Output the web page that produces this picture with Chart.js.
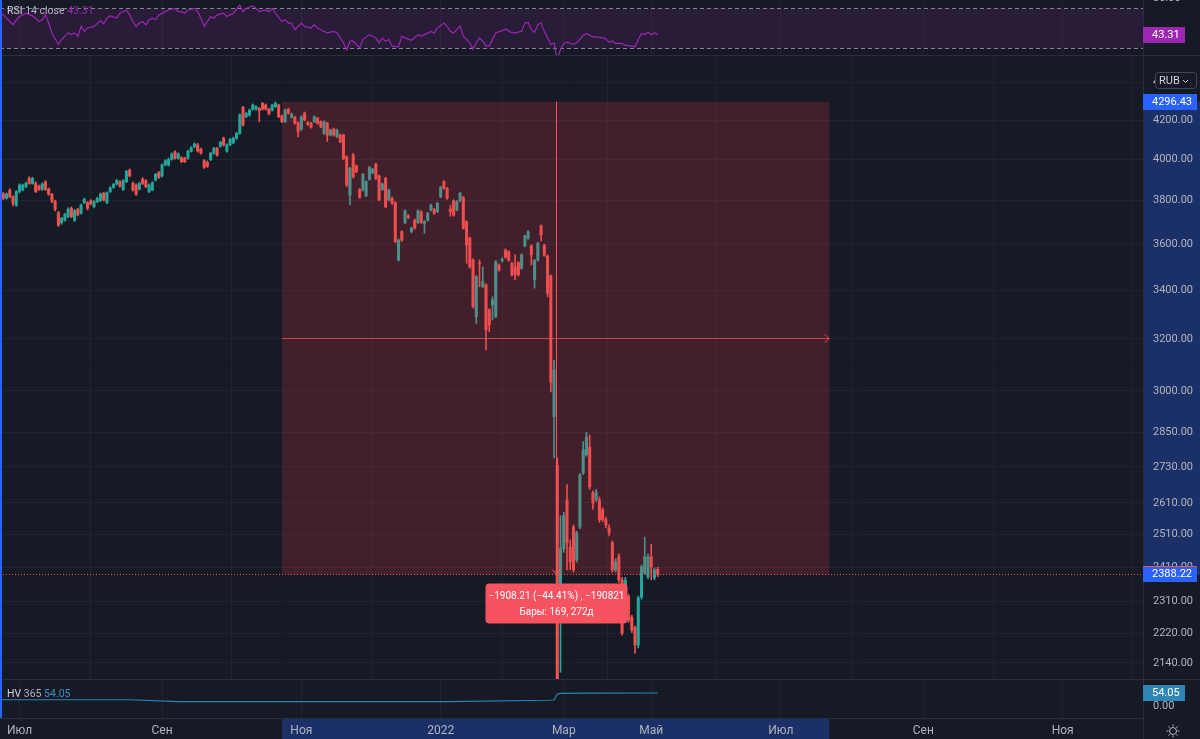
<!DOCTYPE html>
<html lang="ru">
<head>
  <meta charset="UTF-8">
  <title>IMOEX — Date and Price Range</title>
  <script src="https://cdn.jsdelivr.net/npm/chart.js"></script>
  <style>
    html, body { margin: 0; padding: 0; }
    body { width: 1200px; height: 739px; background: #161a25; position: relative; overflow: hidden; }
    canvas { position: absolute; left: 0; }
    .sep { position: absolute; left: 0; width: 1200px; height: 1px; background: #2a2e39; }
    .edge { position: absolute; left: 0; top: 0; width: 2px; height: 718px; background: #2962ff; }
  </style>
</head>
<body>
  <canvas id="rsiChart" width="1200" height="60" style="top:-5px"></canvas>
  <div class="sep" style="top:55px"></div>
  <canvas id="mainChart" width="1200" height="623" style="top:56px"></canvas>
  <div class="sep" style="top:679px"></div>
  <canvas id="hvChart" width="1200" height="59" style="top:680px"></canvas>
  <div class="edge"></div>

  <script>
    // --- data (daily bars, bar index 0 = 24 Jun 2021) ---
    const monthBars = [5, 49, 92, 135, 173, 200, 240, 284, 327];
    const monthLabels = ['Июл', 'Сен', 'Ноя', '2022', 'Мар', 'Май', 'Июл', 'Сен', 'Ноя'];
    const priceTicks = [4400, 4200, 4000, 3800, 3600, 3400, 3200, 3000, 2850, 2730, 2610, 2510, 2410, 2310, 2220, 2140];

    const openP = [
      3831, 3811, 3850, 3818, 3779, 3842, 3850, 3866, 3906, 3882,
      3882, 3869, 3853, 3890, 3855, 3830, 3798, 3743, 3697, 3709,
      3725, 3764, 3709, 3759, 3741, 3790, 3790, 3800, 3771, 3795,
      3800, 3835, 3790, 3842, 3863, 3879, 3890, 3852, 3890, 3947,
      3882, 3874, 3855, 3902, 3895, 3842, 3850, 3898, 3934, 3918,
      3972, 3972, 4000, 4037, 4005, 4008, 4005, 4005, 4040, 4063,
      4072, 4050, 3993, 3985, 3998, 4030, 4055, 4065, 4106, 4041,
      4072, 4083, 4106, 4131, 4266, 4217, 4226, 4257, 4257, 4261,
      4288, 4279, 4257, 4252, 4270, 4279, 4221, 4191, 4257, 4214,
      4214, 4186, 4152, 4236, 4188, 4183, 4191, 4209, 4191, 4131,
      4183, 4122, 4153, 4114, 4122, 4122, 4013, 3826, 4021, 3967,
      3853, 3850, 3823, 3902, 3934, 3976, 3918, 3853, 3906, 3803,
      3811, 3790, 3530, 3656, 3698, 3728, 3656, 3709, 3698, 3747,
      3694, 3709, 3756, 3759, 3748, 3818, 3890, 3858, 3760, 3799,
      3756, 3800, 3815, 3702, 3627, 3530, 3289, 3515, 3415, 3422,
      3317, 3338, 3290, 3508, 3527, 3574, 3566, 3515, 3500, 3518,
      3494, 3592, 3626, 3592, 3443, 3530, 3682, 3595, 3547, 3460,
      2906, 2735, 2352, 2466, 2620, 2471, 2533, 2432, 2533, 2709,
      2771, 2798, 2643, 2620, 2620, 2588, 2556, 2530, 2484, 2402,
      2441, 2372, 2352, 2323, 2265, 2235, 2188, 2322, 2393, 2381,
      2441, 2378, 2403
    ];
    const highP = [
      3840, 3836, 3856, 3822, 3848, 3880, 3879, 3888, 3914, 3912,
      3890, 3874, 3884, 3895, 3860, 3834, 3802, 3750, 3722, 3740,
      3766, 3770, 3758, 3764, 3784, 3812, 3795, 3805, 3800, 3816,
      3836, 3840, 3842, 3866, 3882, 3902, 3895, 3900, 3946, 3952,
      3890, 3880, 3888, 3910, 3900, 3880, 3890, 3931, 3940, 3978,
      3998, 4006, 4032, 4043, 4032, 4013, 4010, 4046, 4063, 4083,
      4080, 4056, 3998, 3992, 4035, 4060, 4060, 4090, 4112, 4078,
      4106, 4112, 4136, 4232, 4272, 4240, 4258, 4285, 4276, 4266,
      4293, 4285, 4262, 4284, 4296, 4284, 4226, 4257, 4262, 4236,
      4219, 4190, 4222, 4242, 4192, 4188, 4222, 4214, 4196, 4196,
      4188, 4153, 4158, 4153, 4127, 4127, 4018, 3960, 4030, 3972,
      3858, 3931, 3895, 3965, 3955, 3981, 3923, 3884, 3912, 3855,
      3816, 3795, 3623, 3661, 3757, 3735, 3677, 3714, 3757, 3752,
      3707, 3745, 3784, 3764, 3792, 3868, 3895, 3863, 3779, 3804,
      3800, 3840, 3820, 3707, 3632, 3535, 3462, 3530, 3500, 3427,
      3322, 3372, 3527, 3513, 3540, 3579, 3571, 3520, 3552, 3523,
      3557, 3641, 3661, 3597, 3532, 3609, 3687, 3600, 3552, 3465,
      3117, 2760, 2569, 2580, 2670, 2493, 2540, 2520, 2708, 2817,
      2850, 2840, 2650, 2655, 2630, 2595, 2565, 2540, 2490, 2435,
      2450, 2380, 2380, 2330, 2270, 2240, 2325, 2416, 2502, 2450,
      2480, 2408, 2410
    ];
    const lowP = [
      3805, 3806, 3812, 3775, 3772, 3836, 3846, 3862, 3878, 3878,
      3838, 3848, 3848, 3848, 3825, 3790, 3752, 3679, 3690, 3704,
      3720, 3720, 3702, 3728, 3736, 3786, 3756, 3780, 3766, 3790,
      3795, 3798, 3786, 3838, 3858, 3874, 3864, 3848, 3886, 3914,
      3845, 3825, 3850, 3876, 3862, 3838, 3846, 3894, 3906, 3912,
      3968, 3966, 3996, 4000, 4000, 3983, 3984, 4000, 4036, 4058,
      4036, 4025, 3955, 3960, 3994, 4026, 4016, 4060, 4066, 4036,
      4068, 4078, 4100, 4126, 4168, 4212, 4220, 4252, 4252, 4191,
      4252, 4252, 4226, 4247, 4266, 4212, 4186, 4186, 4230, 4210,
      4178, 4113, 4146, 4195, 4172, 4157, 4186, 4178, 4160, 4126,
      4090, 4117, 4117, 4109, 4083, 3998, 3866, 3780, 3908, 3934,
      3810, 3845, 3818, 3897, 3928, 3900, 3798, 3848, 3766, 3798,
      3782, 3606, 3525, 3612, 3693, 3715, 3650, 3667, 3693, 3693,
      3649, 3704, 3751, 3735, 3743, 3813, 3853, 3806, 3727, 3727,
      3751, 3795, 3667, 3515, 3494, 3325, 3262, 3414, 3410, 3156,
      3229, 3276, 3285, 3481, 3520, 3537, 3524, 3460, 3443, 3460,
      3489, 3587, 3621, 3508, 3408, 3525, 3614, 3546, 3372, 2996,
      2760, 1681, 2115, 2455, 2402, 2402, 2395, 2425, 2528, 2704,
      2766, 2655, 2590, 2615, 2548, 2550, 2530, 2505, 2395, 2396,
      2365, 2215, 2345, 2250, 2222, 2166, 2180, 2316, 2388, 2375,
      2372, 2372, 2382
    ];
    const closeP = [
      3811, 3831, 3818, 3787, 3842, 3874, 3874, 3882, 3882, 3906,
      3842, 3853, 3879, 3853, 3830, 3798, 3759, 3686, 3717, 3736,
      3759, 3725, 3753, 3733, 3779, 3806, 3764, 3784, 3795, 3811,
      3831, 3803, 3837, 3861, 3877, 3895, 3869, 3895, 3940, 3918,
      3850, 3830, 3882, 3882, 3866, 3874, 3885, 3926, 3911, 3972,
      3993, 4000, 4026, 4005, 4026, 3988, 3988, 4040, 4058, 4075,
      4041, 4030, 3960, 3966, 4030, 4055, 4021, 4085, 4072, 4072,
      4100, 4106, 4131, 4226, 4174, 4235, 4252, 4279, 4270, 4249,
      4257, 4257, 4232, 4279, 4288, 4218, 4191, 4252, 4236, 4231,
      4183, 4140, 4217, 4200, 4178, 4162, 4217, 4183, 4165, 4191,
      4122, 4148, 4122, 4148, 4088, 4005, 3874, 3955, 3914, 3939,
      3817, 3926, 3890, 3960, 3950, 3906, 3803, 3879, 3771, 3850,
      3787, 3611, 3618, 3618, 3752, 3722, 3672, 3672, 3752, 3698,
      3702, 3740, 3779, 3740, 3787, 3863, 3858, 3812, 3748, 3732,
      3795, 3835, 3672, 3596, 3500, 3331, 3457, 3512, 3436, 3236,
      3256, 3359, 3522, 3486, 3533, 3542, 3529, 3465, 3465, 3465,
      3552, 3636, 3656, 3552, 3527, 3604, 3641, 3551, 3386, 3033,
      3079, 2059, 2466, 2569, 2484, 2426, 2402, 2515, 2702, 2788,
      2833, 2663, 2610, 2646, 2556, 2556, 2540, 2515, 2402, 2426,
      2372, 2221, 2372, 2257, 2229, 2188, 2320, 2411, 2441, 2441,
      2411, 2402, 2388.22
    ];

    const rsiBars = [
      -1, 0, 1, 3, 4, 5, 6, 7, 9, 10, 11, 12, 13, 14, 15, 17, 18, 20, 21, 22,
      23, 24, 25, 26, 28, 30, 31, 32, 33, 35, 36, 38, 39, 40, 41, 42, 43, 44, 45, 46,
      47, 48, 50, 51, 53, 54, 55, 56, 57, 59, 60, 61, 62, 63, 64, 65, 66, 68, 69, 70,
      71, 73, 74, 75, 77, 78, 79, 81, 82, 83, 84, 86, 87, 88, 89, 90, 92, 93, 95, 96,
      97, 98, 99, 100, 102, 103, 105, 106, 107, 108, 110, 111, 113, 114, 115, 116, 117, 118, 119, 120,
      122, 123, 124, 126, 128, 129, 130, 132, 133, 134, 136, 137, 138, 139, 140, 141, 142, 143, 144, 145,
      146, 147, 148, 149, 150, 151, 152, 154, 155, 157, 158, 160, 161, 162, 163, 164, 165, 166, 167, 168,
      169, 170, 171, 172, 173, 174, 176, 177, 179, 180, 182, 183, 185, 186, 187, 188, 189, 191, 192, 194,
      195, 196, 197, 198, 199, 200, 201, 202
    ];
    const rsiValues = [
      63.3, 63.3, 60, 53.3, 58.3, 61.6, 63.3, 65, 62.3, 60, 56.6, 58.3, 63.3, 55, 45, 33.3, 38.3, 45, 43.3, 45,
      41.6, 51.6, 46.6, 50, 51.6, 57.6, 54.3, 60, 62.3, 60, 65, 68.3, 63.3, 56.6, 51.6, 55, 56.6, 53.3, 58.3, 60,
      58.3, 63.3, 66.6, 68.3, 70, 66.6, 66.6, 65, 68.3, 70, 66.6, 60, 51.6, 56.6, 61.6, 60, 63.3, 65, 61.6, 63.3,
      65, 73.3, 66.6, 70, 72.3, 70, 66.6, 68.3, 66.6, 70, 65, 56.6, 58.3, 55, 55, 48.3, 55, 51.6, 50, 53.3,
      50, 48.3, 46.6, 45, 46.6, 45, 35, 27.6, 36.6, 36.6, 30, 38.3, 43.3, 41.6, 40, 35, 40, 36.6, 38.3, 31.6,
      30.8, 41.6, 40, 37.6, 43.3, 41.6, 43.3, 46.6, 45, 50, 55, 51.6, 46.6, 45, 48.3, 52.3, 41.6, 38.3, 35, 28.3,
      35, 40, 36.6, 31.6, 31.6, 38.3, 45, 47.3, 49, 45, 45, 46.6, 55, 55.6, 48.3, 45.6, 53.3, 55, 46.6, 40,
      33.3, 35, 17, 28.3, 34.3, 35.6, 33.3, 35, 42.3, 44.3, 41, 41, 40, 39, 35.6, 36.6, 34.3, 34.3, 32.3, 31.6,
      31, 38.3, 44.3, 43.3, 45.6, 43.3, 45, 43.31
    ];
    const rsiBand = [30, 70];

    const hvBars = [-1, 39, 54, 137, 168, 170, 171, 172, 180, 202];
    const hvValues = [26, 26, 18, 18, 24, 25, 50, 52.5, 53.5, 54.05];

    // Date and Price Range drawing
    const rangeBars = [86, 255];
    const rangePrices = [4296.43, 2388.22];
    const rangeDays = 272;

    // --- look ---
    const FONT = 'Roboto, "Liberation Sans", sans-serif';
    const BG = '#161a25', GRID = '#1f2330', LINE = '#2a2e39', TEXT = '#b2b5be';
    const UP = '#26a69a', DOWN = '#ef5350', RANGE = '#f7525f';
    const X_MIN = -1.02, X_MAX = 351.8, AXIS_W = 57;

    Chart.defaults.font.family = FONT;
    Chart.defaults.font.size = 11;
    Chart.defaults.color = TEXT;

    function timeScale(showLabels) {
      return {
        type: 'linear', min: X_MIN, max: X_MAX, offset: false,
        grid: { color: GRID, drawTicks: false },
        border: { display: showLabels, color: LINE },
        ticks: {
          display: showLabels, autoSkip: false, maxRotation: 0, padding: 6, color: TEXT,
          font: { size: 12 },
          callback: v => monthLabels[monthBars.indexOf(v)] || ''
        },
        afterBuildTicks: s => { s.ticks = monthBars.map(v => ({ value: v })); },
        afterFit: s => { s.height = showLabels ? 21 : 0; s.paddingLeft = 0; s.paddingRight = 0; }
      };
    }

    function valueScale(type, min, max, ticks, showGrid) {
      return {
        type, position: 'right', min, max,
        grid: { display: showGrid, color: GRID, drawTicks: false },
        border: { display: true, color: LINE },
        ticks: { padding: 10, color: TEXT, autoSkip: false, callback: v => Number(v).toFixed(2) },
        afterBuildTicks: s => { s.ticks = ticks.map(v => ({ value: v })); },
        afterFit: s => { s.width = AXIS_W; s.paddingTop = 0; s.paddingBottom = 0; }
      };
    }

    const baseOpts = {
      responsive: false, animation: false, devicePixelRatio: 1,
      layout: { padding: 0 },
      plugins: { legend: { display: false }, tooltip: { enabled: false } }
    };

    function badge(ctx, x, yc, w, text, bg) {
      ctx.fillStyle = bg;
      ctx.fillRect(x, Math.round(yc - 8), w, 16);
      ctx.fillStyle = '#ffffff';
      ctx.font = '11px ' + FONT;
      ctx.textAlign = 'left';
      ctx.textBaseline = 'middle';
      ctx.fillText(text, x + 9, Math.round(yc) + 0.5);
    }

    function spans(ctx, x, y, parts) {
      ctx.textAlign = 'left';
      ctx.textBaseline = 'middle';
      parts.forEach(([txt, color]) => {
        ctx.fillStyle = color;
        ctx.fillText(txt, x, y);
        x += ctx.measureText(txt).width;
      });
    }

    const minus = (v, d) => (v < 0 ? '\u2212' : '') + Math.abs(v).toFixed(d);

    // --- RSI pane ---
    const rsiOverlay = {
      id: 'rsiOverlay',
      beforeDatasetsDraw(chart) {
        const { ctx, chartArea: a, scales: { y } } = chart;
        const yHi = Math.round(y.getPixelForValue(rsiBand[1])) + 0.5;
        const yLo = Math.round(y.getPixelForValue(rsiBand[0])) + 0.5;
        ctx.save();
        ctx.fillStyle = 'rgba(156, 39, 176, 0.15)';
        ctx.fillRect(a.left, yHi, a.right - a.left, yLo - yHi);
        ctx.strokeStyle = '#82858f';
        ctx.lineWidth = 1;
        ctx.setLineDash([4, 3]);
        [yHi, yLo].forEach(v => {
          ctx.beginPath(); ctx.moveTo(a.left, v); ctx.lineTo(a.right, v); ctx.stroke();
        });
        ctx.restore();
      },
      afterDraw(chart) {
        const { ctx, chartArea: a, scales: { y } } = chart;
        const last = rsiValues[rsiValues.length - 1];
        ctx.save();
        ctx.font = '10.5px ' + FONT;
        spans(ctx, 7, 16, [['RSI', '#d1d4dc'], [' 14 close ', '#b2b5be'], [last.toFixed(2), '#9c27b0']]);
        badge(ctx, a.right, y.getPixelForValue(last), 42, last.toFixed(2), '#9c27b0');
        ctx.restore();
      }
    };

    new Chart(document.getElementById('rsiChart'), {
      type: 'line',
      data: {
        datasets: [{
          data: rsiBars.map((b, i) => ({ x: b, y: rsiValues[i] })),
          borderColor: '#9c27b0', borderWidth: 1.2, pointRadius: 0, tension: 0
        }]
      },
      options: {
        ...baseOpts,
        scales: { x: timeScale(false), y: valueScale('linear', 22.6, 83.5, [80], false) }
      },
      plugins: [rsiOverlay]
    });

    // --- price pane ---
    const idx = openP.map((_, i) => i);
    const candleColors = idx.map(i => (closeP[i] >= openP[i] ? UP : DOWN));
    const lastClose = closeP[closeP.length - 1];

    const mainOverlay = {
      id: 'mainOverlay',
      beforeDraw(chart) {
        const { ctx, chartArea: a, scales: { y }, width } = chart;
        const yt = y.getPixelForValue(rangePrices[0]);
        const yb = y.getPixelForValue(rangePrices[1]);
        ctx.save();
        ctx.fillStyle = 'rgba(41, 98, 255, 0.3)';
        ctx.fillRect(a.right, yt, width - a.right, yb - yt);
        ctx.restore();
      },
      afterDatasetsDraw(chart) {
        const { ctx, chartArea: a, scales: { x, y } } = chart;
        const xs = x.getPixelForValue(rangeBars[0]);
        const xe = x.getPixelForValue(rangeBars[1]);
        const yt = y.getPixelForValue(rangePrices[0]);
        const yb = y.getPixelForValue(rangePrices[1]);
        const xm = Math.round((xs + xe) / 2) + 0.5;
        const ym = Math.round((yt + yb) / 2) + 0.5;
        ctx.save();

        // range box
        ctx.fillStyle = 'rgba(242, 54, 69, 0.2)';
        ctx.fillRect(xs, yt, xe - xs, yb - yt);

        // last price line
        const yl = Math.round(y.getPixelForValue(lastClose)) + 0.5;
        ctx.strokeStyle = DOWN;
        ctx.lineWidth = 1;
        ctx.setLineDash([1, 2]);
        ctx.beginPath(); ctx.moveTo(a.left, yl); ctx.lineTo(a.right, yl); ctx.stroke();
        ctx.setLineDash([]);

        // arrows
        ctx.strokeStyle = 'rgba(247, 82, 95, 0.75)';
        ctx.beginPath();
        ctx.moveTo(xs, ym); ctx.lineTo(xe, ym);
        ctx.moveTo(xe - 5, ym - 4); ctx.lineTo(xe, ym); ctx.lineTo(xe - 5, ym + 4);
        ctx.stroke();
        ctx.strokeStyle = RANGE;
        ctx.beginPath();
        ctx.moveTo(xm, yt); ctx.lineTo(xm, yb);
        ctx.moveTo(xm - 4, yb - 5); ctx.lineTo(xm, yb); ctx.lineTo(xm + 4, yb - 5);
        ctx.stroke();

        // info label
        const diff = rangePrices[1] - rangePrices[0];
        const pct = diff / rangePrices[0] * 100;
        const line1 = `${minus(diff, 2)} (${minus(pct, 2)}%) , ${minus(Math.round(diff * 100), 0)}`;
        const line2 = `Бары: ${rangeBars[1] - rangeBars[0]}, ${rangeDays}д`;
        const bw = 142, bh = 40, bx = xm - bw / 2, by = yb + 9;
        ctx.fillStyle = RANGE;
        ctx.beginPath();
        ctx.roundRect(bx, by, bw, bh, 4);
        ctx.fill();
        ctx.fillStyle = '#ffffff';
        ctx.font = '10px ' + FONT;
        ctx.textAlign = 'center';
        ctx.textBaseline = 'middle';
        ctx.fillText(line1, xm, by + 13);
        ctx.fillText(line2, xm, by + 29);
        ctx.restore();
      },
      afterDraw(chart) {
        const { ctx, chartArea: a, scales: { y } } = chart;
        ctx.save();
        badge(ctx, a.right, y.getPixelForValue(rangePrices[0]), 54, rangePrices[0].toFixed(2), '#2962ff');
        const yb = y.getPixelForValue(rangePrices[1]);
        badge(ctx, a.right, yb, 54, rangePrices[1].toFixed(2), '#2962ff');
        ctx.fillStyle = DOWN;
        ctx.fillRect(a.right, Math.round(yb - 8), 54, 1);

        // currency selector
        ctx.fillStyle = BG;
        ctx.strokeStyle = '#434651';
        ctx.beginPath();
        ctx.roundRect(a.right + 12.5, 16.5, 41, 16, 3);
        ctx.fill(); ctx.stroke();
        ctx.fillStyle = '#d1d4dc';
        ctx.font = '11px ' + FONT;
        ctx.textAlign = 'left';
        ctx.textBaseline = 'middle';
        ctx.fillText('RUB', a.right + 16, 25);
        ctx.strokeStyle = '#d1d4dc';
        ctx.beginPath();
        ctx.moveTo(a.right + 40, 24); ctx.lineTo(a.right + 42.5, 26.5); ctx.lineTo(a.right + 45, 24);
        ctx.stroke();
        ctx.restore();
      }
    };

    new Chart(document.getElementById('mainChart'), {
      type: 'bar',
      data: {
        datasets: [
          {
            data: idx.map(i => ({ x: i, y: [lowP[i], highP[i]] })),
            backgroundColor: candleColors, barThickness: 1, grouped: false, borderWidth: 0
          },
          {
            data: idx.map(i => ({ x: i, y: [openP[i], closeP[i]] })),
            backgroundColor: candleColors, barThickness: 2.4, minBarLength: 1, grouped: false, borderWidth: 0
          }
        ]
      },
      options: {
        ...baseOpts,
        scales: { x: timeScale(false), y: valueScale('logarithmic', 2097.4, 4547.6, priceTicks, true) }
      },
      plugins: [mainOverlay]
    });

    // --- HV pane + time axis ---
    const hvOverlay = {
      id: 'hvOverlay',
      beforeDraw(chart) {
        const { ctx, chartArea: a, scales: { x }, height } = chart;
        const xs = x.getPixelForValue(rangeBars[0]);
        const xe = x.getPixelForValue(rangeBars[1]);
        ctx.save();
        ctx.fillStyle = 'rgba(41, 98, 255, 0.3)';
        ctx.fillRect(xs, a.bottom, xe - xs, height - a.bottom);
        ctx.restore();
      },
      afterDraw(chart) {
        const { ctx, chartArea: a, scales: { y }, height } = chart;
        const last = hvValues[hvValues.length - 1];
        ctx.save();
        ctx.font = '10.5px ' + FONT;
        spans(ctx, 7, 14, [['HV', '#d1d4dc'], [' 365 ', '#b2b5be'], [last.toFixed(2), '#3d8fc0']]);
        badge(ctx, a.right, y.getPixelForValue(last), 42, last.toFixed(2), '#2f86b6');

        ctx.strokeStyle = LINE;
        ctx.beginPath(); ctx.moveTo(a.right + 0.5, a.bottom); ctx.lineTo(a.right + 0.5, height); ctx.stroke();

        // settings gear
        const gx = a.right + 30, gy = a.bottom + 13;
        ctx.strokeStyle = TEXT;
        ctx.beginPath(); ctx.arc(gx, gy, 3.5, 0, Math.PI * 2); ctx.stroke();
        for (let k = 0; k < 8; k++) {
          const t = k * Math.PI / 4;
          ctx.beginPath();
          ctx.moveTo(gx + Math.cos(t) * 4.5, gy + Math.sin(t) * 4.5);
          ctx.lineTo(gx + Math.cos(t) * 6.5, gy + Math.sin(t) * 6.5);
          ctx.stroke();
        }
        ctx.restore();
      }
    };

    new Chart(document.getElementById('hvChart'), {
      type: 'line',
      data: {
        datasets: [{
          data: hvBars.map((b, i) => ({ x: b, y: hvValues[i] })),
          borderColor: '#2a84b5', borderWidth: 1.2, pointRadius: 0, tension: 0
        }]
      },
      options: {
        ...baseOpts,
        scales: { x: timeScale(true), y: valueScale('linear', -49.9, 108.1, [0], false) }
      },
      plugins: [hvOverlay]
    });
  </script>
</body>
</html>
